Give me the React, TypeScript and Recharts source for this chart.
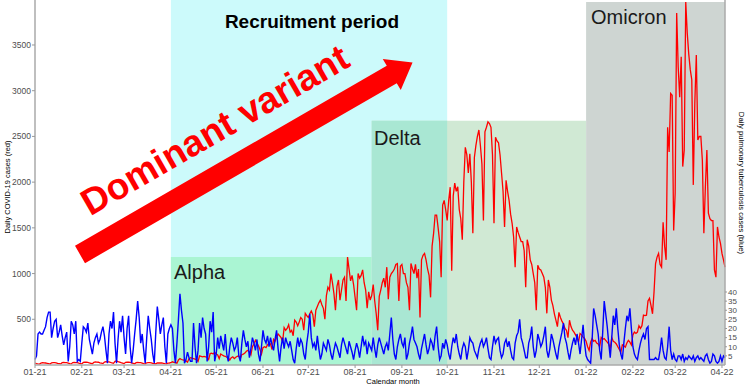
import { LineChart, Line, XAxis, YAxis, ReferenceArea } from 'recharts';

// days counted from 2021-01-01
const monthTicks = [0, 31, 59, 90, 120, 151, 181, 212, 243, 273, 304, 334, 365, 396, 424, 455];
const monthLabels = ['01-21', '02-21', '03-21', '04-21', '05-21', '06-21', '07-21', '08-21', '09-21', '10-21', '11-21', '12-21', '01-22', '02-22', '03-22', '04-22'];
const covidTicks = [500, 1000, 1500, 2000, 2500, 3000, 3500];
const tbTicks = [5, 10, 15, 20, 25, 30, 35, 40];

// recruitment period and variant periods (day numbers, COVID-axis ceiling)
const recruitStart = 90;
const recruitEnd = 273;
const variantNames = ['Alpha', 'Delta', 'Omicron'];
const variantStart = [90, 223, 365];
const variantEnd = [223, 365, 457];
const variantCeiling = [1180, 2670, 3970];

// daily COVID-19 cases (red), one row per week
const covidDaily = [
  20, 15, 12, 10, 22, 25, 24,
  22, 18, 14, 10, 24, 26, 25,
  24, 18, 15, 12, 25, 28, 26,
  25, 20, 15, 12, 26, 28, 27,
  26, 20, 16, 12, 28, 30, 30,
  28, 22, 18, 14, 30, 34, 32,
  30, 24, 20, 15, 32, 36, 35,
  35, 28, 22, 18, 40, 45, 38,
  32, 25, 20, 15, 30, 32, 30,
  28, 22, 18, 14, 26, 28, 26,
  25, 20, 15, 12, 24, 26, 25,
  24, 18, 15, 12, 22, 24, 22,
  22, 18, 14, 12, 20, 22, 25,
  35, 30, 25, 20, 55, 70, 60,
  55, 50, 45, 30, 70, 80, 75,
  70, 65, 60, 40, 100, 95, 90,
  95, 90, 85, 60, 125, 130, 120,
  140, 120, 110, 70, 120, 110, 100,
  95, 85, 80, 55, 80, 90, 70,
  85, 95, 100, 70, 115, 120, 130,
  150, 160, 140, 110, 200, 230, 270,
  240, 210, 170, 120, 190, 200, 190,
  220, 240, 230, 170, 280, 260, 300,
  340, 320, 300, 250, 410, 380, 400,
  440, 360, 380, 320, 490, 470, 430,
  470, 520, 500, 380, 565, 540, 520,
  560, 590, 550, 420, 600, 640, 680,
  710, 660, 620, 500, 760, 850, 820,
  1000, 900, 780, 600, 860, 930, 710,
  820, 930, 960, 700, 1180, 1050, 920,
  980, 880, 740, 600, 1000, 950, 980,
  1040, 900, 820, 620, 800, 710, 760,
  880, 700, 560, 380, 750, 820, 900,
  950, 850, 1070, 720, 960, 1000, 1020,
  1050, 1100, 1110, 700, 1080, 1100, 1000,
  1000, 900, 850, 600, 1110, 1050, 1000,
  1100, 950, 1050, 520, 1150, 1200, 1220,
  1150, 1050, 980, 740, 1300, 1440, 1640,
  1640, 1500, 1350, 960, 1750, 1800, 1700,
  1580, 1800, 1945, 1030, 1850, 1990, 1900,
  1950, 1700, 1600, 1370, 2000, 2380, 2300,
  2100, 2310, 2000, 1440, 2270, 2400, 2500,
  2570, 2400, 2200, 1580, 2550, 2600, 2660,
  2640, 2600, 2300, 1550, 2490, 2450, 2430,
  2300, 2100, 1900, 1510, 2020, 1900, 1800,
  1650, 1550, 1400, 1070, 1510, 1450, 1400,
  1350, 1350, 1250, 850, 1370, 1300, 1150,
  1100, 1000, 900, 600, 1090, 1050, 1040,
  1000, 960, 850, 565, 930, 850, 710,
  650, 560, 490, 420, 575, 520, 480,
  450, 400, 380, 300, 490, 420, 380,
  360, 330, 300, 250, 345, 330, 305,
  290, 260, 200, 160, 250, 290, 260,
  270, 240, 230, 200, 300, 280, 290,
  270, 250, 230, 180, 300, 260, 250,
  230, 200, 170, 140, 220, 210, 195,
  240, 270, 250, 220, 330, 360, 345,
  360, 430, 400, 430, 545, 540, 545,
  700, 730, 650, 560, 800, 1110, 1180,
  1220, 1100, 1070, 1560, 1300, 1150, 2600,
  2330, 2970, 2950, 1470, 1880, 3850, 3260,
  2930, 3370, 2170, 2350, 3970, 3630, 3400,
  3230, 3120, 1970, 2860, 3390, 2460, 2500,
  2500, 2240, 1440, 1950, 2350, 1660, 1600,
  1580, 1580, 1040, 960, 1510, 1400, 1330,
  1220, 1150, 1070,
];

// daily pulmonary tuberculosis cases (blue), one row per week
const tbDaily = [
  3, 5, 17, 18, 17, 17, 19,
  21, 26, 29, 29, 15, 20, 24,
  25, 15, 18, 22, 16, 11, 15,
  18, 2, 10, 24, 22, 17, 24,
  2, 3, 2, 12, 21, 20, 18,
  23, 14, 10, 6, 12, 15, 17,
  12, 14, 18, 21, 16, 8, 1,
  17, 24, 20, 29, 12, 1, 14,
  24, 18, 27, 15, 6, 20, 27,
  10, 1, 8, 17, 25, 35, 26,
  12, 17, 8, 1, 15, 27, 20,
  14, 6, 1, 18, 32, 25, 17,
  22, 26, 10, 1, 17, 20, 22,
  20, 8, 1, 12, 25, 39, 30,
  23, 1, 3, 7, 4, 2, 2,
  23, 10, 1, 8, 23, 15, 26,
  20, 17, 2, 10, 24, 18, 29,
  2, 6, 15, 9, 16, 12, 8,
  17, 6, 2, 10, 15, 12, 8,
  10, 15, 5, 2, 12, 19, 14,
  10, 13, 4, 9, 15, 12, 8,
  14, 6, 2, 10, 19, 14, 12,
  16, 10, 15, 11, 8, 14, 19,
  9, 2, 10, 15, 9, 15, 12,
  10, 13, 8, 3, 1, 9, 15,
  10, 14, 12, 6, 3, 12, 18,
  28, 15, 10, 12, 8, 16, 9,
  3, 6, 12, 10, 8, 14, 11,
  6, 3, 8, 12, 10, 7, 4,
  11, 15, 12, 9, 6, 13, 10,
  7, 3, 8, 12, 9, 4, 10,
  16, 11, 13, 6, 12, 10, 8,
  15, 9, 4, 11, 15, 12, 9,
  6, 10, 12, 8, 17, 26, 14,
  6, 3, 10, 14, 17, 12, 10,
  15, 3, 6, 12, 16, 21, 14,
  12, 10, 6, 3, 9, 13, 17,
  11, 6, 9, 14, 12, 8, 16,
  21, 10, 3, 5, 12, 9, 14,
  11, 6, 3, 10, 15, 12, 17,
  10, 6, 3, 9, 12, 10, 3,
  8, 15, 13, 12, 8, 6, 4,
  9, 12, 14, 10, 12, 15, 9,
  4, 3, 10, 16, 12, 14, 15,
  8, 4, 6, 12, 14, 10, 13,
  8, 4, 3, 12, 16, 18, 25,
  15, 12, 8, 4, 4, 12, 15,
  21, 10, 4, 8, 17, 14, 10,
  12, 16, 21, 8, 4, 9, 17,
  14, 10, 6, 3, 10, 14, 18,
  23, 15, 12, 7, 3, 8, 12,
  15, 11, 17, 12, 6, 14, 22,
  12, 5, 3, 2, 1, 14, 31,
  27, 22, 17, 8, 3, 18, 35,
  28, 21, 12, 4, 15, 27, 22,
  31, 20, 11, 6, 3, 12, 20,
  27, 24, 31, 20, 10, 6, 4,
  3, 8, 12, 15, 17, 14, 20,
  21, 3, 3, 3, 3, 4, 3,
  3, 8, 15, 8, 4, 3, 10,
  21, 8, 3, 6, 3, 2, 5,
  5, 3, 6, 2, 4, 3, 5,
  4, 3, 5, 2, 4, 5, 3,
  4, 3, 2, 5, 6, 3, 1,
  2, 6, 5, 2, 1, 2, 5,
  2, 5, 4,
];

const rows = covidDaily.map((covid, day) => ({ day, covid, tb: tbDaily[day] }));

const FONT = '"Liberation Sans", Arial, Helvetica, sans-serif';
const variantFills = ['#aaf5d3', '#d0e9d4', '#ced5d2'];

// arrow geometry (annotation only)
const arrowTail = { x: 80, y: 254.5 };
const arrowAngle = (-30 * Math.PI) / 180;
const arrowLen = 360;
const arrowHalf = 10;
const headHalf = 18;
const headLen = 24;

function arrowPoints() {
  const ux = Math.cos(arrowAngle);
  const uy = Math.sin(arrowAngle);
  const nx = -uy;
  const ny = ux;
  const bx = arrowTail.x + ux * arrowLen;
  const by = arrowTail.y + uy * arrowLen;
  const pts = [
    [arrowTail.x - nx * arrowHalf, arrowTail.y - ny * arrowHalf],
    [bx - nx * arrowHalf, by - ny * arrowHalf],
    [bx - nx * headHalf, by - ny * headHalf],
    [bx + ux * headLen, by + uy * headLen],
    [bx + nx * headHalf, by + ny * headHalf],
    [bx + nx * arrowHalf, by + ny * arrowHalf],
    [arrowTail.x + nx * arrowHalf, arrowTail.y + ny * arrowHalf],
  ];
  return pts.map((p) => p.join(',')).join(' ');
}

export default function App() {
  return (
    <div style={{ position: 'absolute', left: 0, top: 0, width: 750, height: 388, fontFamily: FONT }}>
      <LineChart width={750} height={388} data={rows} margin={{ top: 0, right: 0, left: 0, bottom: 0 }}>
        <XAxis
          dataKey="day"
          type="number"
          domain={[0, 457]}
          ticks={monthTicks}
          interval={0}
          tickFormatter={(v) => monthLabels[monthTicks.indexOf(v)]}
          height={23}
          tickSize={3}
          tickMargin={1}
          tick={{ fontSize: 9, fill: '#4d4d4d', fontFamily: FONT }}
          tickLine={{ stroke: '#999' }}
          axisLine={{ stroke: '#aaa', strokeWidth: 1.5 }}
        />
        <YAxis
          yAxisId="covid"
          domain={[0, 3992]}
          ticks={covidTicks}
          interval={0}
          width={35}
          tickSize={3}
          tickMargin={1}
          tick={{ fontSize: 8.5, fill: '#4d4d4d', fontFamily: FONT }}
          tickLine={{ stroke: '#999' }}
          axisLine={{ stroke: '#aaa', strokeWidth: 1.5 }}
        />
        <YAxis
          yAxisId="tb"
          orientation="right"
          domain={[0, 200]}
          ticks={tbTicks}
          interval={0}
          width={25}
          tickSize={2}
          tickMargin={1}
          tick={{ fontSize: 8, fill: '#4d4d4d', fontFamily: FONT }}
          tickLine={{ stroke: '#999' }}
          axisLine={{ stroke: '#aaa', strokeWidth: 1.5 }}
        />
        <ReferenceArea yAxisId="covid" x1={recruitStart} x2={recruitEnd} y1={0} y2={3992} fill="#ccfafb" fillOpacity={1} stroke="none" />
        {variantNames.map((name, i) => (
          <ReferenceArea
            key={name}
            yAxisId="covid"
            x1={variantStart[i]}
            x2={variantEnd[i]}
            y1={0}
            y2={variantCeiling[i]}
            fill={variantFills[i]}
            fillOpacity={1}
            stroke="none"
          />
        ))}
        <ReferenceArea yAxisId="covid" x1={variantStart[1]} x2={recruitEnd} y1={0} y2={variantCeiling[1]} fill="#a9e7d3" fillOpacity={1} stroke="none" />
        <Line yAxisId="covid" type="linear" dataKey="covid" stroke="#ff0000" strokeWidth={1.3} dot={false} activeDot={false} isAnimationActive={false} />
        <Line yAxisId="tb" type="linear" dataKey="tb" stroke="#0000ff" strokeWidth={1.4} dot={false} activeDot={false} isAnimationActive={false} />
      </LineChart>
      <svg width={750} height={388} style={{ position: 'absolute', left: 0, top: 0, pointerEvents: 'none' }}>
        <text x={312} y={28} textAnchor="middle" fontSize={19} fontWeight="bold" fill="#000" fontFamily={FONT}>
          Recruitment period
        </text>
        <polygon points={arrowPoints()} fill="#ff0000" />
        <text x={221} y={141} textAnchor="middle" fontSize={37} fontWeight="bold" fill="#ff0000" fontFamily={FONT} transform="rotate(-30 221 141)">
          Dominant variant
        </text>
        <text x={174} y={279} fontSize={20} fill="#1a1a1a" fontFamily={FONT}>{variantNames[0]}</text>
        <text x={374} y={145} fontSize={20} fill="#1a1a1a" fontFamily={FONT}>{variantNames[1]}</text>
        <text x={591} y={24} fontSize={20} fill="#1a1a1a" fontFamily={FONT}>{variantNames[2]}</text>
        <text x={7} y={187} textAnchor="middle" fontSize={7.5} fill="#000" fontFamily={FONT} transform="rotate(-90 7 187)" dominantBaseline="central">
          Daily COVID-19 cases (red)
        </text>
        <text x={741} y={183} textAnchor="middle" fontSize={7.7} fill="#000" fontFamily={FONT} transform="rotate(90 741 183)" dominantBaseline="central">
          Daily pulmonary tuberculosis cases (blue)
        </text>
        <text x={393} y={384} textAnchor="middle" fontSize={7.5} fill="#000" fontFamily={FONT}>
          Calendar month
        </text>
      </svg>
    </div>
  );
}
